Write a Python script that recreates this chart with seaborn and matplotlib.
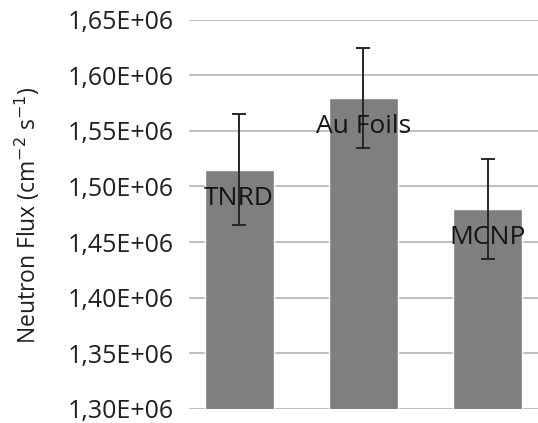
import matplotlib
matplotlib.use("Agg")
import matplotlib.pyplot as plt
import seaborn as sns
from matplotlib.ticker import FuncFormatter, MultipleLocator

# data
methods = ["TNRD", "Au Foils", "MCNP"]
flux = [1.515e6, 1.580e6, 1.480e6]
flux_err = [0.050e6, 0.045e6, 0.045e6]

sns.set_style("white")
plt.rcParams["font.family"] = ["Open Sans", "DejaVu Sans"]

fig = plt.figure(figsize=(5.38, 4.23), dpi=100)
ax = fig.add_axes([0.351, 0.034, 0.649, 0.919])

sns.barplot(x=methods, y=flux, color="#7f7f7f", saturation=1, width=0.555, ax=ax, zorder=2)
ax.errorbar(range(len(methods)), flux, yerr=flux_err, fmt="none",
            ecolor="#262626", elinewidth=1.4, capsize=5, capthick=1.4, zorder=3)

# data labels, inside end of each bar
for i, (m, v) in enumerate(zip(methods, flux)):
    ax.annotate(m, (i, v), xytext=(0, -21), textcoords="offset points",
                ha="center", va="center", fontsize=19, color="#141414", zorder=4)

ax.set_ylim(1.30e6, 1.65e6)
ax.yaxis.set_major_locator(MultipleLocator(0.05e6))
ax.yaxis.set_major_formatter(FuncFormatter(
    lambda v, p: ("%.2E" % v).replace(".", ",")))
ax.grid(axis="y", color="#bfbfbf", linewidth=1.4, zorder=0)
ax.set_axisbelow(True)
ax.tick_params(axis="y", length=0, pad=11, labelsize=18, labelcolor="#1f1f1f")
ax.set_xticks([])
for s in ax.spines.values():
    s.set_visible(False)

fig.text(27 / 538, 0.492, "Neutron Flux (cm$^{-2}$ s$^{-1}$)", rotation=90,
         ha="center", va="center", fontsize=16.5, color="#1f1f1f")

fig.savefig("out.png", dpi=100)
